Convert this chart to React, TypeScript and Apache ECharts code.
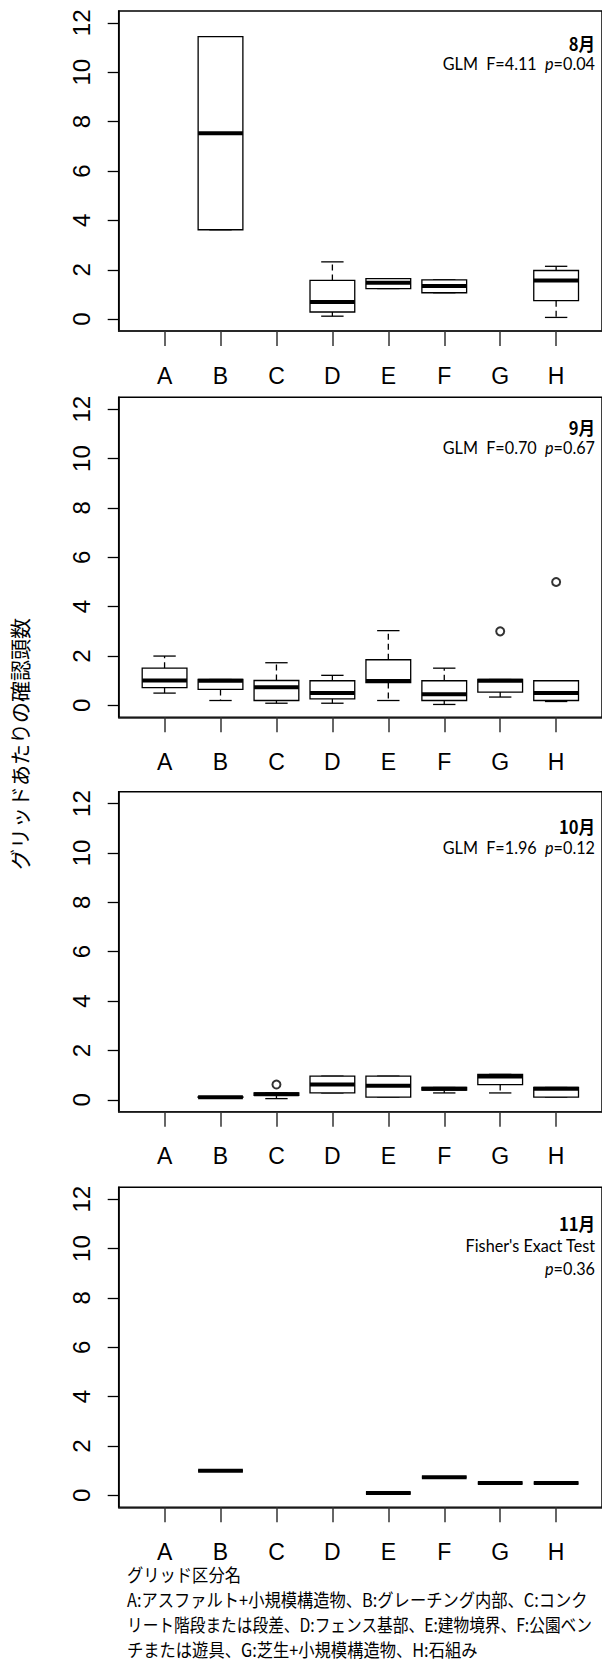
import React, { useEffect, useRef } from "react";
import * as echarts from "echarts";

// ---------- data ----------
const categories = ["A", "B", "C", "D", "E", "F", "G", "H"];
const categoryPositions = [1, 2, 3, 4, 5, 6, 7, 8];
const yTicks = [0, 2, 4, 6, 8, 10, 12];

// rows: [category position, min, Q1, median, Q3, max]
const augBoxes = [
  [2, 3.62, 3.62, 7.53, 11.44, 11.44],
  [4, 0.12, 0.29, 0.69, 1.57, 2.32],
  [5, 1.24, 1.24, 1.47, 1.64, 1.64],
  [6, 1.07, 1.07, 1.34, 1.59, 1.59],
  [8, 0.07, 0.75, 1.57, 1.97, 2.14],
];
const augOutliers: number[][] = [];

const sepBoxes = [
  [1, 0.5, 0.72, 1.01, 1.51, 2.0],
  [2, 0.2, 0.65, 1.0, 1.05, 1.05],
  [3, 0.09, 0.2, 0.74, 1.01, 1.73],
  [4, 0.09, 0.27, 0.5, 1.0, 1.22],
  [5, 0.2, 0.93, 0.99, 1.85, 3.03],
  [6, 0.04, 0.2, 0.45, 1.0, 1.51],
  [7, 0.34, 0.54, 1.0, 1.05, 1.05],
  [8, 0.16, 0.2, 0.5, 1.0, 1.0],
];
const sepOutliers = [
  [7, 3.0],
  [8, 5.0],
];

const octBoxes = [
  [2, 0.1, 0.1, 0.11, 0.12, 0.12],
  [3, 0.05, 0.18, 0.23, 0.28, 0.28],
  [4, 0.28, 0.28, 0.62, 0.96, 0.96],
  [5, 0.11, 0.11, 0.57, 0.96, 0.96],
  [6, 0.28, 0.39, 0.45, 0.5, 0.5],
  [7, 0.28, 0.62, 0.95, 1.03, 1.03],
  [8, 0.11, 0.11, 0.45, 0.5, 0.5],
];
const octOutliers = [[3, 0.62]];

const novBoxes = [
  [2, 1.0, 1.0, 1.0, 1.0, 1.0],
  [5, 0.1, 0.1, 0.1, 0.1, 0.1],
  [6, 0.74, 0.74, 0.74, 0.74, 0.74],
  [7, 0.5, 0.5, 0.5, 0.5, 0.5],
  [8, 0.5, 0.5, 0.5, 0.5, 0.5],
];
const novOutliers: number[][] = [];

const monthLabels = ["8月", "9月", "10月", "11月"];
const testLines = [
  [["GLM  F=4.11  ", "p", "=0.04"]],
  [["GLM  F=0.70  ", "p", "=0.67"]],
  [["GLM  F=1.96  ", "p", "=0.12"]],
  [["Fisher's Exact Test", "", ""], ["", "p", "=0.36"]],
];

const yAxisTitle = "グリッドあたりの確認頭数";
const noteLines = [
  "グリッド区分名",
  "A:アスファルト+小規模構造物、B:グレーチング内部、C:コンク",
  "リート階段または段差、D:フェンス基部、E:建物境界、F:公園ベン",
  "チまたは遊具、G:芝生+小規模構造物、H:石組み",
];

// ---------- layout ----------
const W = 602;
const H = 1663;
const panelTops = [11, 397.3, 791.7, 1187.3];
const panelHeight = 320;
const plotLeft = 118.7;
const plotWidth = 486.3;
const monthY = [42.7, 427, 826, 1222.7];
const lineGaps = [20.5, 20.5, 21, 22.5];
const textRight = 595;
const noteScaleX = [0.905, 0.905, 0.872, 0.905];

const panels = [
  { boxes: augBoxes, outliers: augOutliers },
  { boxes: sepBoxes, outliers: sepOutliers },
  { boxes: octBoxes, outliers: octOutliers },
  { boxes: novBoxes, outliers: novOutliers },
];

function renderBox(params: any, api: any) {
  const x = api.value(0);
  const vmin = api.value(1);
  const q1 = api.value(2);
  const med = api.value(3);
  const q3 = api.value(4);
  const vmax = api.value(5);
  const half = api.size([0.8, 0])[0] / 2;
  const capHalf = half / 2;
  const pMin = api.coord([x, vmin]);
  const pQ1 = api.coord([x, q1]);
  const pMed = api.coord([x, med]);
  const pQ3 = api.coord([x, q3]);
  const pMax = api.coord([x, vmax]);
  const cx = pMed[0];
  const ls = { stroke: "#000", lineWidth: 1.3, fill: null };
  const children: any[] = [];
  if (vmax > q3) {
    children.push({
      type: "line",
      shape: { x1: cx, y1: pQ3[1], x2: cx, y2: pMax[1] },
      style: { ...ls, lineDash: [6, 4] },
    });
  }
  if (vmin < q1) {
    children.push({
      type: "line",
      shape: { x1: cx, y1: pQ1[1], x2: cx, y2: pMin[1] },
      style: { ...ls, lineDash: [6, 4] },
    });
  }
  children.push({
    type: "line",
    shape: { x1: cx - capHalf, y1: pMax[1], x2: cx + capHalf, y2: pMax[1] },
    style: ls,
  });
  children.push({
    type: "line",
    shape: { x1: cx - capHalf, y1: pMin[1], x2: cx + capHalf, y2: pMin[1] },
    style: ls,
  });
  children.push({
    type: "rect",
    shape: { x: cx - half, y: pQ3[1], width: half * 2, height: pQ1[1] - pQ3[1] },
    style: { stroke: "#000", lineWidth: 1.3, fill: "#fff" },
  });
  children.push({
    type: "line",
    shape: { x1: cx - half, y1: pMed[1], x2: cx + half, y2: pMed[1] },
    style: { stroke: "#000", lineWidth: 4 },
  });
  return { type: "group", children };
}

export default function App() {
  const ref = useRef<HTMLDivElement>(null);

  useEffect(() => {
    document.body.style.margin = "0";
    if (!ref.current) return;
    const chart = echarts.init(ref.current, null, { renderer: "svg", width: W, height: H });

    const grids = panelTops.map((top) => ({
      left: plotLeft,
      top,
      width: plotWidth,
      height: panelHeight,
      show: true,
      borderColor: "#000",
      borderWidth: 1.5,
      backgroundColor: "transparent",
      containLabel: false,
    }));

    const xAxes = panelTops.map((_, i) => ({
      type: "value",
      gridIndex: i,
      min: 0.18,
      max: 8.82,
      position: "bottom",
      axisLine: { show: true, onZero: false, lineStyle: { color: "#222", width: 1.5 } },
      axisTick: {
        show: true,
        customValues: categoryPositions,
        length: 15,
        lineStyle: { color: "#333", width: 1.5 },
      },
      axisLabel: {
        show: true,
        customValues: categoryPositions,
        formatter: (v: number) => categories[Math.round(v) - 1] ?? "",
        fontSize: 23,
        fontFamily: "Liberation Sans",
        color: "#000",
        margin: 33,
      },
      splitLine: { show: false },
    }));

    const yAxes = panelTops.map((_, i) => ({
      type: "value",
      gridIndex: i,
      min: -0.48,
      max: 12.48,
      position: "left",
      axisLine: { show: true, onZero: false, lineStyle: { color: "#000", width: 1.5 } },
      axisTick: {
        show: true,
        customValues: yTicks,
        length: 11,
        lineStyle: { color: "#000", width: 1.3 },
      },
      axisLabel: {
        show: true,
        customValues: yTicks,
        rotate: 90,
        fontSize: 24,
        fontFamily: "Liberation Sans",
        color: "#000",
        margin: 25,
      },
      splitLine: { show: false },
    }));

    const series: any[] = [];
    panels.forEach((p, i) => {
      series.push({
        type: "custom",
        xAxisIndex: i,
        yAxisIndex: i,
        data: p.boxes,
        encode: { x: 0, y: [1, 2, 3, 4, 5] },
        renderItem: renderBox,
        silent: true,
      });
      series.push({
        type: "scatter",
        xAxisIndex: i,
        yAxisIndex: i,
        data: p.outliers,
        symbol: "emptyCircle",
        symbolSize: 8,
        itemStyle: { color: "#000", borderWidth: 1.2 },
        silent: true,
      });
    });

    const graphics: any[] = [];
    const latinFont = "Lato";
    monthLabels.forEach((m, i) => {
      graphics.push({
        type: "text",
        x: textRight,
        y: monthY[i],
        scaleX: 0.92,
        style: {
          text: m,
          align: "right",
          verticalAlign: "middle",
          fontSize: 18,
          fontWeight: "bold",
          fontFamily: "Noto Sans CJK JP",
          fill: "#000",
        },
      });
      testLines[i].forEach((parts, j) => {
        const txt =
          (parts[0] ? `{a|${parts[0]}}` : "") +
          (parts[1] ? `{i|${parts[1]}}` : "") +
          (parts[2] ? `{a|${parts[2]}}` : "");
        graphics.push({
          type: "text",
          x: textRight,
          y: monthY[i] + lineGaps[i] * (j + 1),
          scaleX: 0.9,
          style: {
            text: txt,
            align: "right",
            verticalAlign: "middle",
            fontSize: 18,
            fontFamily: latinFont,
            fill: "#000",
            rich: {
              a: { fontSize: 18, fontFamily: latinFont, fill: "#000" },
              i: { fontSize: 18, fontFamily: latinFont, fontStyle: "italic", fill: "#000" },
            },
          },
        });
      });
    });

    graphics.push({
      type: "text",
      x: 19,
      y: 744,
      rotation: Math.PI / 2,
      style: {
        text: yAxisTitle,
        align: "center",
        verticalAlign: "middle",
        fontSize: 21,
        fontFamily: "Noto Sans CJK JP",
        fill: "#000",
      },
    });

    noteLines.forEach((line, k) => {
      graphics.push({
        type: "text",
        x: 127,
        y: 1574 + k * 25,
        scaleX: noteScaleX[k],
        style: {
          text: line,
          align: "left",
          verticalAlign: "middle",
          fontSize: 18,
          fontFamily: "Noto Sans CJK JP",
          fill: "#000",
        },
      });
    });

    chart.setOption({
      animation: false,
      backgroundColor: "#fff",
      grid: grids,
      xAxis: xAxes,
      yAxis: yAxes,
      series,
      graphic: graphics,
    });

    return () => chart.dispose();
  }, []);

  return (
    <div
      ref={ref}
      style={{ position: "absolute", left: 0, top: 0, width: W, height: H, overflow: "hidden" }}
    />
  );
}
